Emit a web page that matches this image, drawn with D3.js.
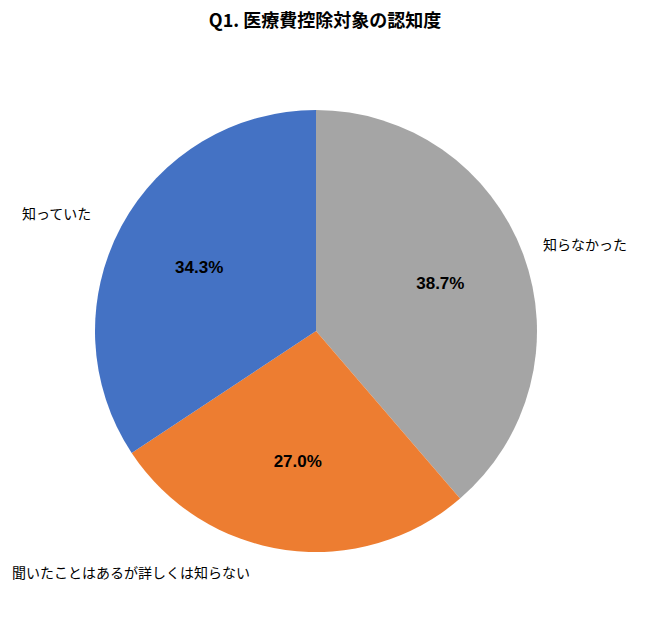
<!DOCTYPE html>
<html><head><meta charset="utf-8">
<script src="https://cdn.jsdelivr.net/npm/d3@7"></script>
<style>body{margin:0;background:#fff;font-family:"Noto Sans CJK JP",sans-serif;}</style>
</head><body>
<svg id="chart" width="650" height="618"></svg>
<script>
var categories = ["知らなかった", "聞いたことはあるが詳しくは知らない", "知っていた"];
var values = [38.7, 27.0, 34.3];
var colors = ["#a5a5a5", "#ed7d31", "#4472c4"];
// outer label positions (anchor start) per category
var labelPos = [[543, 250], [12, 578], [22, 219]];

var svg = d3.select("#chart");
svg.append("text").attr("x", 325).attr("y", 27).attr("text-anchor", "middle")
  .style("font-size", "18px").style("font-weight", "bold").text("Q1. 医療費控除対象の認知度");

var cx = 316, cy = 331, r = 221;
var pie = d3.pie().sort(null).value(d => d);
var arc = d3.arc().innerRadius(0).outerRadius(r);
var labelArc = d3.arc().innerRadius(r * 0.6).outerRadius(r * 0.6);
var g = svg.append("g").attr("transform", "translate(" + cx + "," + cy + ")");
var arcs = pie(values);

g.selectAll("path").data(arcs).enter().append("path")
  .attr("d", arc).attr("fill", (d, i) => colors[i]);

g.selectAll("text.pct").data(arcs).enter().append("text")
  .attr("class", "pct")
  .attr("transform", d => "translate(" + labelArc.centroid(d) + ")")
  .attr("text-anchor", "middle").attr("dominant-baseline", "middle")
  .style("font-size", "17px").style("font-weight", "bold")
  .style("font-family", "Liberation Sans, sans-serif")
  .text(d => d.data.toFixed(1) + "%");

svg.selectAll("text.cat").data(categories).enter().append("text")
  .attr("class", "cat")
  .attr("x", (d, i) => labelPos[i][0]).attr("y", (d, i) => labelPos[i][1])
  .style("font-size", "14px").text(d => d);
</script>
</body></html>
